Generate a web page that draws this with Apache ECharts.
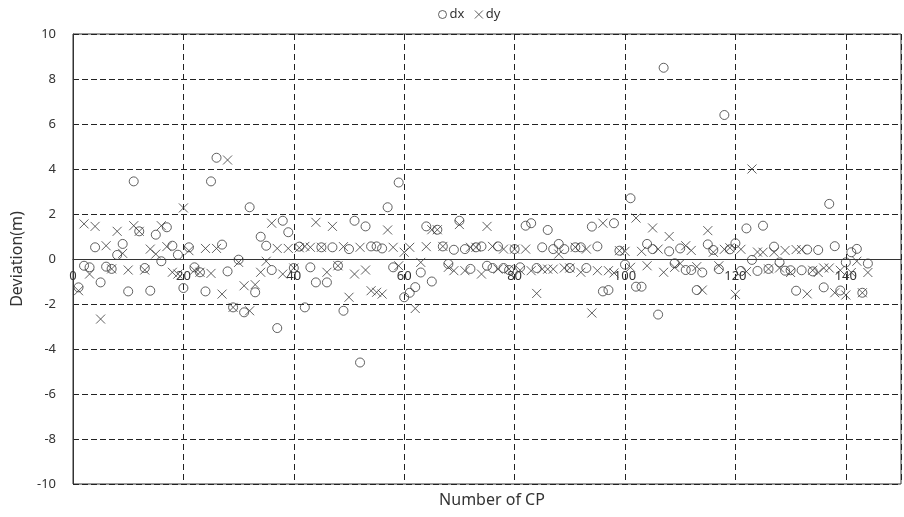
<!DOCTYPE html>
<html>
<head>
<meta charset="utf-8">
<script src="https://cdn.jsdelivr.net/npm/echarts@6/dist/echarts.min.js"></script>
<style>html,body{margin:0;padding:0;background:#fff}#c{width:904px;height:517px}</style>
</head>
<body>
<div id="c"></div>
<script>
// Deviation of check points (m), CP numbers 1..N
const dxValues = [
 -1.26,-0.30,-0.37,0.52,-1.04,-0.34,-0.44,0.18,0.67,-1.44,
 3.45,1.23,-0.40,-1.41,1.08,-0.10,1.41,0.59,0.19,-1.29,
 0.52,-0.37,-0.59,-1.44,3.45,4.50,0.64,-0.55,-2.15,-0.03,
 -2.37,2.30,-1.48,0.99,0.59,-0.49,-3.07,1.70,1.19,-0.40,
 0.55,-2.15,-0.37,-1.04,0.52,-1.04,0.52,-0.30,-2.30,0.44,
 1.70,-4.60,1.45,0.56,0.56,0.47,2.30,-0.37,3.40,-1.70,
 -1.50,-1.25,-0.60,1.45,-1.00,1.30,0.56,-0.22,0.41,1.70,
 0.44,-0.44,0.52,0.56,-0.30,-0.40,0.56,-0.40,-0.49,0.44,
 -0.37,1.48,1.59,-0.40,0.52,1.29,0.44,0.67,0.44,-0.40,
 0.52,0.52,-0.40,1.44,0.56,-1.44,-1.38,1.59,0.37,-0.25,
 2.70,-1.23,-1.23,0.67,0.44,-2.47,8.50,0.34,-0.19,0.47,
 -0.49,-0.49,-1.38,-0.60,0.65,0.40,-0.45,6.40,0.43,0.70,
 -0.53,1.36,-0.04,-0.53,1.48,-0.44,0.55,-0.15,-0.52,-0.50,
 -1.41,-0.50,0.42,-0.55,0.40,-1.26,2.45,0.57,-1.40,-0.15,
 0.30,0.45,-1.50,-0.20
];
const dyValues = [
 -1.41,1.56,-0.67,1.45,-2.67,0.59,-0.44,1.23,0.25,-0.49,
 1.48,1.23,-0.49,0.44,0.22,1.48,0.55,-0.59,-0.67,2.27,
 0.37,-0.50,-0.59,0.47,-0.64,0.47,-1.56,4.40,-2.15,-0.15,
 -1.19,-2.30,-1.14,-0.59,-0.10,1.59,0.47,-0.67,0.47,-0.40,
 0.50,0.56,0.52,1.63,0.52,-0.59,1.45,-0.30,0.55,-1.70,
 -0.67,0.52,-0.49,-1.41,-1.48,-1.56,1.29,0.52,-0.30,0.30,
 0.52,-2.20,-0.15,0.55,1.30,1.30,0.56,-0.37,-0.52,1.53,
 -0.52,0.52,0.52,-0.67,1.45,0.56,-0.45,0.44,-0.45,0.44,
 -0.50,0.44,-0.52,-1.53,-0.45,-0.45,-0.45,0.22,-0.40,-0.40,
 0.52,-0.59,0.44,-2.40,-0.52,1.59,-0.52,-0.62,0.37,0.34,
 -0.37,1.82,0.34,-0.30,1.38,0.44,-0.59,1.00,-0.37,-0.20,
 0.59,0.38,-0.34,-1.38,1.26,0.30,-0.30,0.43,0.50,-1.57,
 0.43,-0.56,4.00,0.31,0.30,-0.44,0.30,-0.40,0.38,-0.60,
 0.42,0.42,-1.55,-0.50,-0.60,-0.40,-0.40,-1.50,-0.50,-1.60,
 -0.60,-0.10,-1.50,-0.60
];
const xTicks = [0,20,40,60,80,100,120,140];
const yTicks = [-10,-8,-6,-4,-2,0,2,4,6,8,10];
const seriesNames = ['dx','dy'];
const xTitle = 'Number of CP';
const yTitle = 'Deviation(m)';

const crossPath = 'path://M0,0L10,10M10,0L0,10';
const markColor = '#3a3a3a';
const font = 'Noto Sans';

const dxData = dxValues.map((v,i)=>[i+1,v]);
const dyData = dyValues.map((v,i)=>[i+1,v]);

const chart = echarts.init(document.getElementById('c'), null, {renderer:'canvas'});
chart.setOption({
  animation:false,
  backgroundColor:'#fff',
  textStyle:{fontFamily:font},
  legend:{
    top:8, left:436, padding:0, itemWidth:8, itemHeight:8, itemGap:8,
    textStyle:{color:'#333', fontSize:13, fontFamily:font, padding:[0,0,0,-2]},
    data:[
      {name:seriesNames[0], icon:'circle', itemStyle:{color:'none', borderColor:markColor, borderWidth:1}},
      {name:seriesNames[1], icon:crossPath, itemStyle:{color:'none', borderColor:markColor, borderWidth:1}}
    ]
  },
  graphic:[{
    type:'text', x:492, y:500,
    style:{text:xTitle, fill:'#333', font:'16px "Noto Sans"', textAlign:'center', textVerticalAlign:'middle'}
  }],
  grid:{left:73, top:34, width:838, height:450, show:true, borderColor:'#333', borderWidth:1, backgroundColor:'transparent'},
  xAxis:{
    type:'value', min:0, max:150, interval:20, position:'bottom', offset:-225,
    axisLine:{show:true, onZero:false, lineStyle:{color:'#333', width:1}},
    axisTick:{show:false},
    axisLabel:{color:'#333', fontSize:13, fontFamily:font, margin:11,
      formatter:function(v){return xTicks.indexOf(v)>=0 ? String(v) : '';}},
    splitLine:{show:true, lineStyle:{color:'#222', type:[6,4], width:1}}
  },
  yAxis:{
    type:'value', min:yTicks[0], max:yTicks[yTicks.length-1], interval:2,
    axisLine:{show:true, lineStyle:{color:'#333'}},
    axisTick:{show:false},
    axisLabel:{color:'#333', fontSize:13, fontFamily:font, margin:17},
    splitLine:{show:true, lineStyle:{color:'#222', type:[6,3], width:1}},
    name:yTitle, nameLocation:'middle', nameGap:48, nameRotate:90,
    nameTextStyle:{color:'#333', fontSize:16, fontFamily:font}
  },
  series:[
    {name:seriesNames[0], type:'scatter', data:dxData, symbol:'circle', symbolSize:9,
     itemStyle:{color:'none', borderColor:markColor, borderWidth:1}},
    {name:seriesNames[1], type:'scatter', data:dyData, symbol:crossPath, symbolSize:9,
     itemStyle:{color:'none', borderColor:markColor, borderWidth:1}}
  ]
});
</script>
</body>
</html>
